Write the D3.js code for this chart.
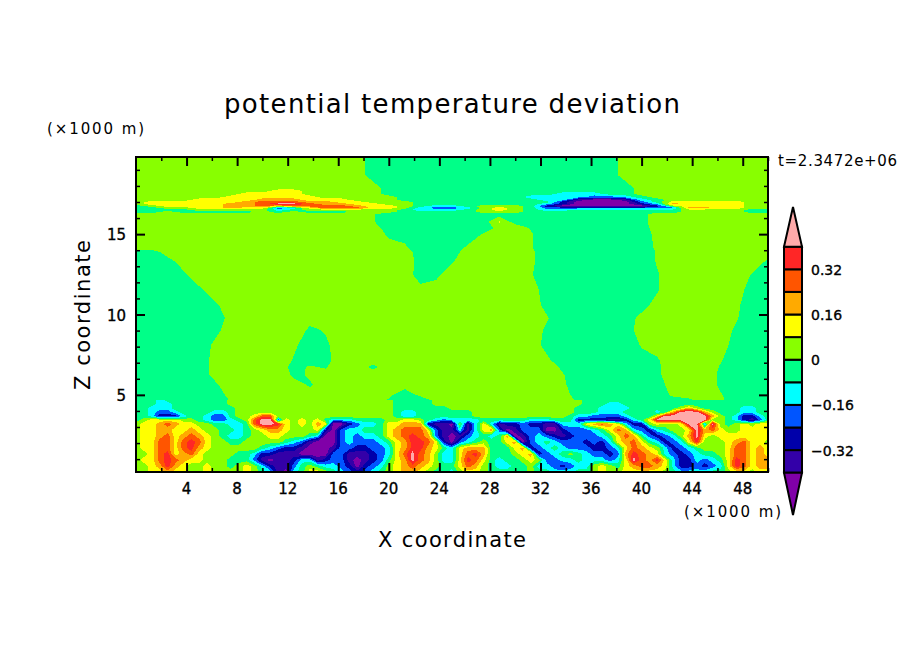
<!DOCTYPE html>
<html>
<head>
<meta charset="utf-8">
<script src="https://cdn.jsdelivr.net/npm/d3@7"></script>
<style>
html, body { margin: 0; background: #fff; }
svg { display: block; }
text { font-family: "DejaVu Sans", sans-serif; fill: #000; }
.xlab, .zlab, .barlab { stroke: #000; stroke-width: 0.35; }
</style>
</head>
<body>
<svg id="chart" width="904" height="654"></svg>
<script>
// contour levels and labels, values in K
const levels = [-0.40, -0.32, -0.24, -0.16, -0.08, 0, 0.08, 0.16, 0.24, 0.32, 0.40];
const bandColors = ["#8000a8", "#3300a8", "#0000aa", "#0055ff", "#00ffff", "#00ff88",
    "#88ff00", "#ffff00", "#ffaa00", "#ff5500", "#ff2626", "#ffaaaa"];
const barLabels = [-0.32, -0.16, 0, 0.16, 0.32];
const xMajor = [4, 8, 12, 16, 20, 24, 28, 32, 36, 40, 44, 48];
const xMinor = [2, 6, 10, 14, 18, 22, 26, 30, 34, 38, 42, 46, 50];
const zMajor = [5, 10, 15];
const zMinor = [1, 2, 3, 4, 6, 7, 8, 9, 11, 12, 13, 14, 16, 17, 18, 19];

// height (km) of each row in the two fields
const zLow = [0.2, 0.57, 0.95, 1.32, 1.69, 2.07, 2.44, 2.81, 3.19, 3.44, 3.68, 3.93, 4.18, 4.43, 4.68];
const zHigh = [4.68, 4.99, 5.61, 6.24, 6.73, 7.17, 8.1, 9.04, 9.78, 10.59, 11.53, 12.46, 13.27, 13.89, 14.14,
    15.01, 15.38, 15.76, 16.25, 16.38, 16.5, 16.63, 16.75, 16.88, 17.0, 17.13, 17.31, 17.5, 17.69, 17.87, 18.68, 19.8];

// deviation x100, boundary layer: one row per zLow, columns every 0.625 km
const thetaLow = [
[4,4,12,12,20,12,12,4,4,12,4,4,4,4,12,4,-4,-12,-36,-44,-12,-4,12,12,4,-4,-12,-20,-28,-20,-12,-4,4,12,20,20,12,4,-4,-4,-12,
 4,12,12,4,-4,-4,-4,-4,-4,4,-4,-4,-12,-12,-12,-4,-4,4,12,4,4,12,12,12,12,12,4,-4,-12,-12,-12,-12,-4,-4,4,12,12,4,12,12],
[4,4,12,20,36,20,12,4,4,12,4,4,-4,4,12,4,-12,-28,-36,-36,-20,-4,4,-4,-12,-12,-20,-28,-44,-28,-20,-12,4,12,20,28,20,12,4,-4,-4,
 12,28,20,4,-4,-12,-12,-4,-4,4,-12,-12,-20,-28,-20,-12,-12,4,12,4,-4,12,20,28,28,20,12,-12,-28,-28,-20,-28,-20,-12,12,36,28,12,20,20],
[4,12,12,28,36,28,20,12,12,4,4,4,-4,-4,-4,-20,-36,-44,-36,-36,-28,-12,-12,-36,-28,-20,-20,-36,-44,-36,-28,-20,-4,12,20,44,28,20,4,-12,-12,
 12,36,28,12,-4,-12,-4,-4,4,12,4,-20,-20,-12,-12,-4,-12,-12,-12,-20,-12,12,44,28,20,36,12,-12,-28,-28,-12,-20,-12,-4,12,36,28,12,20,20],
[4,4,12,28,36,12,20,28,12,4,4,4,4,-4,-4,-12,-28,-28,-36,-36,-36,-44,-44,-44,-44,-20,-20,-36,-36,-36,-28,-20,-12,12,28,44,28,20,4,-12,-12,
 12,28,36,20,-4,-4,-4,4,12,20,-28,-20,-12,-4,4,-4,-12,-20,-20,-28,-20,20,36,28,20,12,-12,-20,-28,-20,-12,-4,-4,4,12,28,28,12,20,12],
[4,12,12,28,28,12,28,36,20,12,4,4,4,4,4,4,-4,-12,-20,-28,-28,-36,-44,-44,-44,-36,-20,-20,-28,-28,-20,-20,-12,12,20,36,36,20,12,-4,-12,
 12,20,20,20,-4,-4,-4,12,20,-28,-20,-12,-4,-12,-20,-20,-20,-28,-28,-20,-12,12,28,20,12,4,-12,-28,-20,-12,-4,4,4,4,12,28,28,12,20,12],
[4,12,12,28,28,12,28,36,28,12,4,4,-4,-4,4,4,4,4,4,-4,-12,-20,-36,-44,-44,-44,-20,-12,-20,-20,-20,-12,-4,12,20,36,36,28,12,-28,-44,
 -20,-12,-4,4,-4,-4,12,20,-44,-20,-12,-4,-12,-20,-20,-20,-28,-20,-28,-12,12,20,28,12,-4,-12,-28,-20,-12,12,36,4,4,4,12,20,28,12,12,4],
[4,12,12,20,28,12,20,28,20,12,4,-4,-12,-12,-4,4,4,12,12,4,4,4,-4,-12,-44,-44,-20,-12,-20,-12,-12,-4,12,20,28,36,28,20,-20,-36,-44,
 -36,-20,-12,-4,-12,-4,20,-44,-36,-20,-12,-20,-28,-36,-28,-20,-20,-20,-12,-4,12,28,20,-4,-20,-28,-20,-12,4,20,44,12,4,12,12,12,12,12,12,12],
[4,12,12,20,20,12,12,20,12,4,4,-4,-4,-12,-4,4,12,20,20,12,4,4,4,12,-28,-44,-20,-12,-12,-4,-4,-4,12,20,28,28,28,12,-20,-36,-36,
 -12,-36,-12,12,20,-20,-44,-36,-20,-20,-20,-44,-44,-28,-20,-20,-20,-12,-4,12,28,20,-12,-20,-28,-12,-4,4,4,12,44,20,28,12,4,4,12,12,12,12],
[4,12,12,20,28,20,12,12,4,4,-4,-4,-12,-12,-4,28,44,44,36,12,4,12,4,20,12,-44,-44,-28,-20,-12,-12,-4,12,12,20,20,20,-28,-36,-36,-44,
 4,-36,-12,12,-12,-36,-28,-28,-20,-28,-28,-36,-36,-12,-12,-12,12,20,28,20,12,-12,-28,-28,4,12,4,4,12,44,44,-20,44,4,-4,4,12,4,12,12],
[-4,4,12,12,12,12,4,4,-4,-12,-20,-20,-12,-4,4,28,44,44,-20,12,4,12,4,12,-4,-12,-12,-12,-4,-4,-4,-4,4,4,12,12,4,-4,-12,-20,-12,
 -12,-12,-12,-4,-4,-4,-4,-4,-4,-12,-12,-12,-4,-4,-4,-28,-28,-28,-28,-36,-36,-28,-12,-4,12,44,44,44,44,44,44,44,4,4,-4,-12,-28,-36,-20,-4],
[-4,-4,-12,-28,-28,-28,-12,-4,-4,-12,-20,-20,-4,4,4,12,28,28,4,4,4,4,4,4,4,4,4,4,4,4,4,4,4,-4,-12,-12,-4,-4,-4,-4,-4,
 -4,-4,4,4,4,4,4,4,4,4,4,4,4,4,-4,-12,-12,-20,-20,-20,-20,-12,-4,-4,-4,12,44,44,44,44,44,44,20,4,-4,-12,-28,-28,-12,-4],
[-4,-4,-12,-20,-20,-12,-4,-4,-4,-4,-12,-12,-4,4,4,4,4,4,4,4,4,4,4,4,4,4,4,4,4,4,4,4,4,-4,-12,-12,-4,-4,-4,-4,-4,
 -4,-4,4,4,4,4,4,4,4,4,4,4,4,4,4,-4,-4,-4,-12,-12,-12,-4,-4,-4,-4,-12,-4,20,44,44,44,20,4,-4,-4,-4,-12,-12,-4,-4],
[-4,-4,-12,-12,-12,-4,-4,-4,-4,-4,-4,-4,-4,4,4,4,4,4,4,4,4,4,4,4,4,4,4,4,4,4,4,4,4,-4,-4,-4,-4,-4,-4,-4,4,
 4,4,4,4,4,4,4,4,4,4,4,4,4,4,4,-4,-4,-4,-12,-12,-12,-12,-4,-4,-4,-4,-4,-4,4,20,4,-4,-4,-4,-4,-4,-12,-12,-4,-4],
[-4,-4,-4,-12,-12,-4,-4,-4,-4,-4,-4,-4,4,4,4,4,4,4,4,4,4,4,4,4,4,4,4,4,4,4,4,4,4,-4,-4,-4,-4,-4,4,4,4,
 4,4,4,4,4,4,4,4,4,4,4,4,4,4,4,4,-4,-4,-4,-12,-12,-4,-4,-4,-4,-4,-4,-4,-4,-4,-4,-4,-4,-4,-4,-4,-4,-4,-4,-4],
[-4,-4,-4,-12,-4,-4,-4,-4,-4,-4,-4,-4,4,4,4,4,4,4,4,4,4,4,4,4,4,4,4,4,4,4,4,4,4,-4,-4,-4,-4,-4,4,4,4,
 4,4,4,4,4,4,4,4,4,4,4,4,4,4,4,4,-4,-4,-4,-4,-4,-4,-4,-4,-4,-4,-4,-4,-4,-4,-4,-4,-4,-4,-4,-4,-4,-4,-4,-4]
];

// deviation x100, free atmosphere: one row per zHigh, columns every 1.25 km
const thetaHigh = [
[-4,-4,-4,-4,-4,-7,1,4,4,4,4,4,4,4,4,7,-1,-4,-5,3,4,4,4,4,4,4,4,6,-2,-4,-4,-4,-4,-4,-4,-2,6,2,-6,-4,-4],
[-4,-4,-4,-4,-4,-5,3,4,4,4,4,4,4,4,4,4,2,-6,2,4,4,4,4,4,4,4,4,4,-4,-4,-4,-4,-4,-6,2,4,4,1,-7,-4,-4],
[-4,-4,-4,-4,-4,-2,6,4,4,4,4,-1,4,4,4,4,4,4,4,4,4,4,4,4,4,4,4,2,-6,-4,-4,-4,-4,-4,4,4,6,-2,-4,-4,-4],
[-4,-4,-4,-4,-5,3,4,4,4,7,-2,1,4,4,4,4,4,4,4,4,4,4,4,4,4,4,4,1,-7,-4,-4,-4,-4,-2,6,4,6,-2,-4,-4,-4],
[-4,-4,-4,-4,-5,3,4,4,4,5,-3,1,-1,7,4,-2,4,4,4,4,4,4,4,4,4,4,6,-2,-4,-4,-4,-4,-4,-2,6,4,7,-1,-4,-4,-4],
[-4,-4,-4,-4,-5,3,4,4,4,7,-1,-4,-3,5,4,4,4,4,4,4,4,4,4,4,4,4,2,-6,-4,-4,-4,-4,-4,-1,7,4,4,1,-7,-4,-4],
[-4,-4,-4,-4,-6,2,4,4,4,4,2,-6,-2,6,4,4,4,4,4,4,4,4,4,4,4,5,-3,-4,-4,-4,-4,-7,1,4,4,4,4,4,-4,-4,-4],
[-4,-4,-4,-4,-4,-3,5,4,4,4,7,-2,1,4,4,4,4,4,4,4,4,4,4,4,4,6,-2,-4,-4,-4,-4,-4,4,4,4,4,4,6,-2,-4,-4],
[-4,-4,-4,-4,-4,-5,3,4,4,4,4,4,4,4,4,4,4,4,4,4,4,4,4,4,4,4,1,-7,-4,-4,-4,-5,3,4,4,4,4,4,1,-7,-4],
[-4,-4,-4,-4,-4,-2,6,4,4,4,4,4,4,4,4,4,4,4,4,4,4,4,4,4,4,5,-3,-4,-4,-4,-4,-4,-4,4,4,4,4,4,2,-6,-4],
[-4,-4,-4,-4,-2,6,4,4,4,4,4,4,4,4,4,4,4,4,4,4,4,4,4,4,4,4,-4,-4,-4,-4,-4,-4,-4,-1,7,4,4,4,4,-4,-4],
[-4,-4,-4,-2,6,4,4,4,4,4,4,4,4,4,4,4,4,7,-6,-2,6,4,4,4,4,1,-7,-4,-4,-4,-4,-4,-4,-1,7,4,4,4,7,-1,-4],
[-4,-4,-4,4,4,4,4,4,4,4,4,4,4,4,4,4,4,5,-3,-4,-1,7,4,4,4,2,-6,-4,-4,-4,-4,-4,-7,1,4,4,4,4,4,6,-2],
[-4,-4,4,4,4,4,4,4,4,4,4,4,4,4,4,4,4,4,-4,-4,-4,4,4,4,4,2,-6,-4,-4,-4,-4,-4,-7,1,4,4,4,4,4,4,4],
[4,4,4,4,4,4,4,4,4,4,4,4,4,4,4,4,4,2,-6,-4,-6,2,4,4,4,1,-7,-4,-4,-4,-4,-4,-6,2,4,4,4,4,4,4,4],
[4,4,4,4,4,4,4,4,4,4,4,4,4,4,4,6,-2,-4,-4,-4,-4,-7,1,4,4,1,-7,-4,-4,-4,-4,-4,-5,3,4,4,4,4,4,4,4],
[4,4,4,4,4,4,4,4,4,4,4,4,4,4,4,4,-4,-4,-4,-4,-4,-4,-5,3,7,-1,-4,-4,-4,-4,-4,-4,-4,4,4,4,4,4,4,4,4],
[4,4,4,4,4,4,4,4,4,4,4,4,4,4,4,1,-7,-4,-4,-4,-4,-4,-4,9,-4,-4,-4,-4,-4,-4,-4,-4,-3,5,4,4,4,4,4,4,4],
[4,4,4,4,4,4,4,4,4,4,4,4,4,4,4,1,-7,-4,-4,-4,-4,-4,-4,-4,-4,-4,-4,-4,-4,-4,-4,-4,-3,5,4,4,4,4,4,4,4],
[-4,-4,4,-4,-4,-4,-4,-4,4,-4,4,-4,-4,-4,4,4,4,-4,-4,-4,-4,-4,4,4,4,-4,-4,-4,-4,-4,-4,-4,-4,-4,-4,4,4,4,4,-4,-4],
[-4,-4,-4,-4,4,4,4,4,4,-12,-4,4,4,4,4,4,4,-4,-12,-12,-12,-4,4,12,4,-4,-12,-12,-4,-4,-4,-4,-4,-4,-4,4,4,4,4,-4,-4],
[-4,-4,4,4,12,12,20,12,12,-20,-12,12,28,28,28,12,12,4,-12,-20,-20,-12,4,12,4,-4,-20,-20,-20,-20,-20,-20,-20,-20,-20,20,20,12,12,4,4],
[-4,4,12,12,12,12,20,20,28,12,28,28,28,28,20,12,12,4,-4,-12,-12,-4,4,4,4,-4,-28,-44,-44,-44,-44,-44,-44,-28,4,12,12,12,12,4,4],
[4,12,12,12,12,12,20,20,28,44,44,28,20,20,12,12,4,4,-4,-4,-4,-4,-4,-4,-4,-4,-12,-28,-44,-44,-44,-44,-28,-12,20,12,12,12,12,4,4],
[4,12,12,12,12,12,12,20,28,28,28,20,20,12,12,4,4,4,-4,-4,-4,-4,-4,-4,-4,-4,-4,-28,-44,-44,-44,-44,-20,-4,12,12,12,12,12,4,4],
[4,4,4,4,12,12,12,12,20,20,20,12,12,12,4,4,4,-4,-4,-4,-4,-4,-4,-4,-4,-4,-12,-12,-36,-44,-44,-36,-12,-4,4,4,4,4,4,4,4],
[4,4,4,4,4,4,12,12,12,12,12,12,4,4,4,4,4,-4,-4,-4,-4,-4,-4,-4,-4,-12,-12,-12,-12,-20,-20,-12,-4,4,4,4,4,4,4,4,4],
[4,4,4,4,4,4,4,12,12,12,12,4,4,4,4,4,-4,-4,-4,-4,-4,-4,-4,-4,-4,-4,-4,-12,-12,-12,-4,-4,4,4,4,4,4,4,4,4,4],
[4,4,4,4,4,4,4,4,4,12,12,4,4,4,4,4,-4,-4,-4,-4,-4,-4,-4,-4,-4,-4,-4,-4,-4,-4,-4,-4,4,4,4,4,4,4,4,4,4],
[4,4,4,4,4,4,4,4,4,4,4,4,4,4,4,4,-4,-4,-4,-4,-4,-4,-4,-4,-4,-4,-4,-4,-4,-4,-4,-4,4,4,4,4,4,4,4,4,4],
[4,4,4,4,4,4,4,4,4,4,4,4,4,4,4,-4,-4,-4,-4,-4,-4,-4,-4,-4,-4,-4,-4,-4,-4,-4,-4,4,4,4,4,4,4,4,4,4,4],
[4,4,4,4,4,4,4,4,4,4,4,4,4,4,4,-4,-4,-4,-4,-4,-4,-4,-4,-4,-4,-4,-4,-4,-4,-4,-4,4,4,4,4,4,4,4,4,4,4]
];

[[thetaLow, 81, zLow], [thetaHigh, 41, zHigh]].forEach(([rows, n, zs]) => {
    if (rows.length !== zs.length) throw new Error("rows " + rows.length + " vs " + zs.length);
    rows.forEach((r, i) => { if (r.length !== n) throw new Error("row " + i + " has " + r.length + " of " + n); });
});

const svg = d3.select("#chart");
const frameL = 136, frameR = 768, frameT = 157, frameB = 472;

const x = d3.scaleLinear().domain([0, 50]).range([frameL, frameR]);
const y = d3.scaleLinear().domain([0.2, 19.8]).range([frameB, frameT]);

svg.append("defs").append("clipPath").attr("id", "frame")
    .append("rect").attr("x", frameL).attr("y", frameT).attr("width", frameR - frameL).attr("height", frameB - frameT);

const plot = svg.append("g").attr("clip-path", "url(#frame)");

// draws one field as stacked filled contours, rows may be unevenly spaced
function drawField(rows, zs, zFrom, zTo) {
    const nx = rows[0].length, ny = rows.length;
    const colKm = d3.scaleLinear().domain([0, nx - 1]).range([0, 50]);
    const rowZ = d3.scaleLinear().domain(d3.range(ny)).range(zs).clamp(true);
    const proj = d3.geoTransform({
        point(u, v) { this.stream.point(x(colKm(u - 0.5)), y(rowZ(v - 0.5))); }
    });
    const path = d3.geoPath(proj);
    const contours = d3.contours().size([nx, ny]).thresholds(levels)(rows.flat().map(v => v / 100));

    const g = plot.append("g").attr("shape-rendering", "crispEdges");
    g.append("rect")
        .attr("x", frameL).attr("width", frameR - frameL)
        .attr("y", y(zTo)).attr("height", y(zFrom) - y(zTo))
        .attr("fill", bandColors[0]);
    g.selectAll("path").data(contours).join("path")
        .attr("d", path)
        .attr("fill", (d, i) => bandColors[i + 1]);
}

drawField(thetaHigh, zHigh, 4.68, 19.8);
drawField(thetaLow, zLow, 0.2, 4.68);

// ticks on all four sides
function ticks(axis, values, size, width, transform) {
    const g = svg.append("g").attr("transform", transform)
        .call(axis.tickValues(values).tickSize(size).tickFormat(""));
    g.select(".domain").remove();
    g.selectAll("line").attr("stroke", "#000").attr("stroke-width", width);
}
ticks(d3.axisBottom(x), xMajor, -9, 2, `translate(0,${frameB})`);
ticks(d3.axisBottom(x), xMinor, -4, 1.5, `translate(0,${frameB})`);
ticks(d3.axisTop(x), xMajor, -9, 2, `translate(0,${frameT})`);
ticks(d3.axisTop(x), xMinor, -4, 1.5, `translate(0,${frameT})`);
ticks(d3.axisLeft(y), zMajor, -9, 2, `translate(${frameL},0)`);
ticks(d3.axisLeft(y), zMinor, -4, 1.5, `translate(${frameL},0)`);
ticks(d3.axisRight(y), zMajor, -9, 2, `translate(${frameR},0)`);
ticks(d3.axisRight(y), zMinor, -4, 1.5, `translate(${frameR},0)`);

svg.append("rect")
    .attr("x", frameL).attr("y", frameT).attr("width", frameR - frameL).attr("height", frameB - frameT)
    .attr("fill", "none").attr("stroke", "#000").attr("stroke-width", 2);

svg.selectAll(".xlab").data(xMajor).join("text").attr("class", "xlab")
    .attr("x", d => x(d)).attr("y", 494)
    .attr("text-anchor", "middle").attr("font-size", 15).text(d => d);
svg.selectAll(".zlab").data(zMajor).join("text").attr("class", "zlab")
    .attr("x", 126).attr("y", d => y(d) + 6)
    .attr("text-anchor", "end").attr("font-size", 15).text(d => d);

// colour bar
const bar = d3.scaleLinear().domain([-0.40, 0.40]).range([472.7, 246.7]);
const barL = 784, barR = 802;
const line = d3.line();
svg.selectAll(".box").data(d3.pairs(levels)).join("rect").attr("class", "box")
    .attr("x", barL).attr("width", barR - barL)
    .attr("y", d => bar(d[1])).attr("height", d => bar(d[0]) - bar(d[1]))
    .attr("fill", (d, i) => bandColors[i + 1])
    .attr("stroke", "#000").attr("stroke-width", 2);
svg.append("path")
    .attr("d", line([[barL, bar(0.40)], [(barL + barR) / 2, 207], [barR, bar(0.40)]]) + "Z")
    .attr("fill", bandColors[11]).attr("stroke", "#000").attr("stroke-width", 2);
svg.append("path")
    .attr("d", line([[barL, bar(-0.40)], [(barL + barR) / 2, 515], [barR, bar(-0.40)]]) + "Z")
    .attr("fill", bandColors[0]).attr("stroke", "#000").attr("stroke-width", 2);
svg.selectAll(".barlab").data(barLabels).join("text").attr("class", "barlab")
    .attr("x", 811).attr("y", d => bar(d) + 5.5)
    .attr("font-size", 14).text(d => String(d).replace("-", "\u2212"));

// titles
function label(txt, px, py, size, len, anchor) {
    return svg.append("text").attr("x", px).attr("y", py).attr("font-size", size)
        .attr("text-anchor", anchor || "start")
        .attr("textLength", len).attr("lengthAdjust", "spacing").text(txt);
}
label("potential temperature deviation", 224, 113, 26, 456);
label("(\u00d71000 m)", 47, 134, 15, 97);
label("(\u00d71000 m)", 684, 517, 15, 97);
label("t=2.3472e+06", 778, 166, 15, 119).attr("fill", "#222");
label("X coordinate", 378, 547, 21, 148);
svg.append("text").attr("transform", "translate(90,390) rotate(-90)")
    .attr("font-size", 21).attr("textLength", 150).attr("lengthAdjust", "spacing")
    .text("Z coordinate");
</script>
</body>
</html>
